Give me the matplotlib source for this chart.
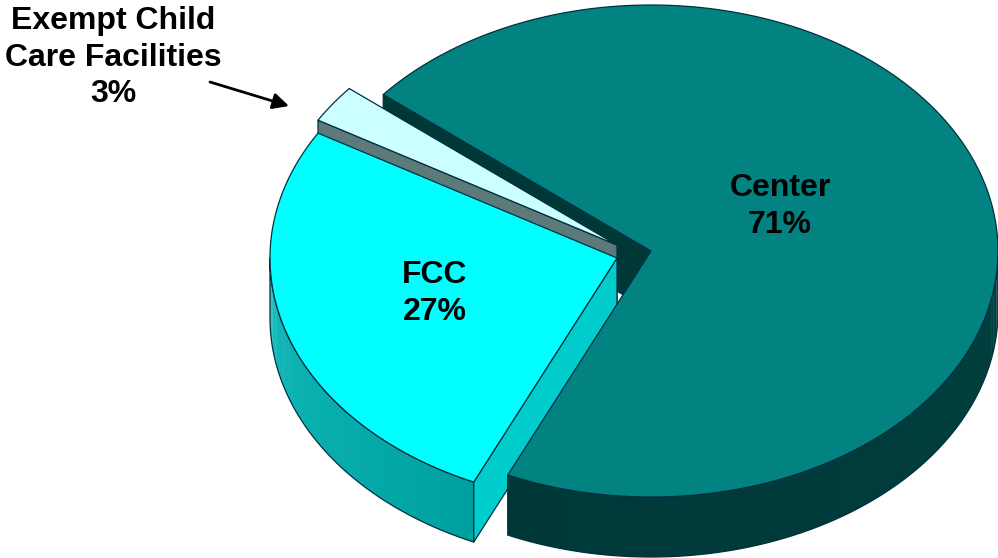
import numpy as np
import matplotlib
matplotlib.use("Agg")
import matplotlib.pyplot as plt
from matplotlib.patches import Polygon

# data
categories = ["Center", "FCC", "Exempt Child\nCare Facilities"]
values = [70.8, 26.7, 2.5]          # slice sizes
labels = ["71%", "27%", "3%"]       # printed labels

# pie geometry (pixels)
A, B, DEPTH = 347.0, 246.0, 60.0
START = 140.5
apex = {"Center": (651, 251), "FCC": (617, 258), "Exempt Child\nCare Facilities": (617, 245)}
EDGE = "#003040"
LW = 0.9

fig = plt.figure(figsize=(9.98, 5.58), dpi=100)
ax = fig.add_axes([0, 0, 1, 1])
ax.set_xlim(0, 998)
ax.set_ylim(558, 0)
ax.axis("off")
plt.rcParams["font.family"] = ["Liberation Sans", "DejaVu Sans"]

# slice angles, clockwise from START
shares = np.array(values) / sum(values) * 360
ends = START - np.cumsum(shares)
starts = ends + shares
ang = {c: (s, e) for c, s, e in zip(categories, starts, ends)}


def rim(c, t0, t1, n=200):
    t = np.radians(np.linspace(t0, t1, n))
    x0, y0 = apex[c]
    return np.column_stack([x0 + A * np.cos(t), y0 - B * np.sin(t)])


def poly(pts, face, edge=EDGE, lw=LW):
    ax.add_patch(Polygon(pts, closed=True, facecolor=face, edgecolor=edge, linewidth=lw, joinstyle="round"))


def top(c, face):
    s, e = ang[c]
    poly(np.vstack([[apex[c]], rim(c, s, e)]), face)


def cut(c, angle, face):
    p = rim(c, angle, angle, 1)[0]
    a = np.array(apex[c], float)
    d = np.array([0, DEPTH])
    poly([a, p, p + d, a + d], face)


def side(c, t0, t1, c0, c1, steps=60):
    tt = np.linspace(t0, t1, steps + 1)
    c0, c1 = np.array(matplotlib.colors.to_rgb(c0)), np.array(matplotlib.colors.to_rgb(c1))
    for i in range(steps):
        r = rim(c, tt[i], tt[i + 1] + (0.3 if i < steps - 1 else 0), 6)
        col = c0 + (c1 - c0) * i / (steps - 1)
        ax.add_patch(Polygon(np.vstack([r, (r + [0, DEPTH])[::-1]]), closed=True, facecolor=col, edgecolor="none"))
    r = rim(c, t0, t1)
    ax.add_patch(Polygon(np.vstack([r, (r + [0, DEPTH])[::-1]]), closed=True, facecolor="none", edgecolor=EDGE, linewidth=LW))


CEN, FCC, EXE = categories
# Center: back cut face
cut(CEN, ang[CEN][0], "#003838")
# Exempt
cut(EXE, ang[EXE][0], "#5c7a7a")
top(EXE, "#ccffff")
# FCC
side(FCC, -180, ang[FCC][0], "#10bcbc", "#00a0a0")
cut(FCC, ang[FCC][0], "#00cccc")
top(FCC, "#00ffff")
# Center: rim and top
side(CEN, ang[CEN][1], 0, "#003838", "#003f3f")
top(CEN, "#028382")

# labels
kw = dict(ha="center", va="center", fontweight="bold", fontsize=23, color="black", linespacing=1.28)
ax.text(780, 206.5, f"{CEN}\n{labels[0]}", **kw)
ax.text(435, 293.5, f"{FCC}\n{labels[1]}", **kw)
ax.text(113, 57.5, f"{EXE}\n{labels[2]}", **kw)
ax.annotate("", xy=(289, 106), xytext=(210, 82),
            arrowprops=dict(arrowstyle="-|>", color="black", lw=2.0, mutation_scale=24, shrinkA=0, shrinkB=0))

fig.savefig("out.png", dpi=100, facecolor="white")
